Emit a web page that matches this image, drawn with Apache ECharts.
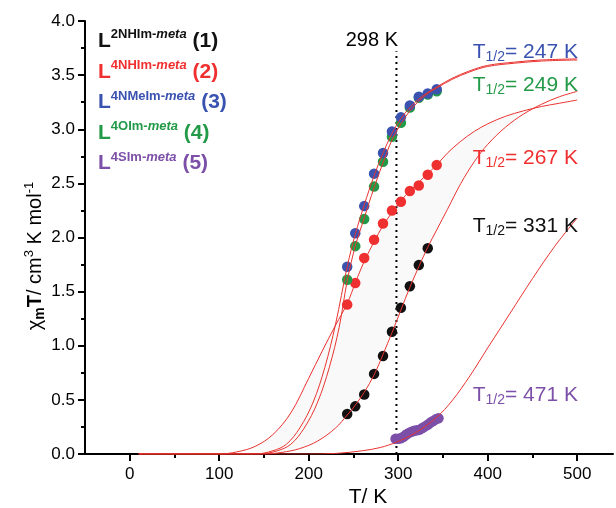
<!DOCTYPE html>
<html><head><meta charset="utf-8">
<script src="https://cdn.jsdelivr.net/npm/echarts@6/dist/echarts.min.js"></script>
<style>html,body{margin:0;padding:0;background:#fff}#c{width:616px;height:508px}</style>
</head><body><div id="c"></div>
<script>
// ---- tick labels ----
const xMajorTicks = [0, 100, 200, 300, 400, 500];
const xMinorTicks = [50, 150, 250, 350, 450];

// ---- measured points (T / K, chiM*T) ----
const tempsA = [243, 252, 262, 273, 283, 293, 303, 313, 323, 333, 343];
const chiT1 = [0.37, 0.44, 0.55, 0.74, 0.905, 1.13, 1.35, 1.55, 1.745, 1.90];          // black (1)
const chiT2 = [1.38, 1.58, 1.81, 1.98, 2.13, 2.25, 2.33, 2.43, 2.48, 2.58, 2.67];     // red (2)
const chiT3 = [1.73, 2.04, 2.29, 2.59, 2.78, 2.98, 3.11, 3.22, 3.30, 3.33, 3.37];     // blue (3)
const chiT4 = [1.61, 1.92, 2.17, 2.47, 2.70, 2.93, 3.06, 3.20, 3.29, 3.32, 3.35];     // green (4)
const temps5 = [297, 300, 303, 306, 309, 312, 315, 318, 321, 324, 327, 330, 333, 336, 339, 342, 345];
const chiT5 = [0.14, 0.14, 0.145, 0.16, 0.18, 0.195, 0.205, 0.215, 0.22, 0.225, 0.24, 0.255, 0.27, 0.29, 0.305, 0.32, 0.33]; // purple (5)

// ---- fitted curves ----
const fit1T = [10, 100, 150, 170, 190, 210, 230, 243, 252, 262, 273, 283, 293, 303, 313, 323, 333, 343, 355, 370, 385, 400, 420, 440, 460, 480, 500];
const fit1Y = [0, 0, 0, 0.015, 0.05, 0.12, 0.24, 0.36, 0.45, 0.57, 0.73, 0.92, 1.12, 1.33, 1.54, 1.73, 1.91, 2.07, 2.26, 2.50, 2.70, 2.86, 3.02, 3.14, 3.23, 3.30, 3.35];
const fit2T = [10, 60, 100, 120, 140, 160, 180, 200, 215, 230, 243, 252, 262, 273, 283, 293, 303, 313, 323, 333, 343, 355, 370, 385, 400, 420, 440, 460, 480, 500];
const fit2Y = [0, 0, 0, 0.02, 0.07, 0.18, 0.38, 0.70, 0.95, 1.19, 1.39, 1.58, 1.78, 1.96, 2.11, 2.23, 2.34, 2.43, 2.51, 2.59, 2.67, 2.78, 2.89, 2.98, 3.05, 3.12, 3.17, 3.21, 3.24, 3.27];
const fit3T = [10, 100, 140, 160, 175, 190, 205, 218, 230, 243, 252, 262, 273, 283, 293, 303, 313, 323, 333, 343, 360, 380, 400, 430, 460, 500];
const fit3Y = [0, 0, 0, 0.03, 0.09, 0.24, 0.48, 0.80, 1.20, 1.73, 2.03, 2.30, 2.57, 2.78, 2.96, 3.10, 3.20, 3.28, 3.34, 3.39, 3.47, 3.54, 3.59, 3.62, 3.64, 3.65];
const fit4T = [10, 100, 145, 165, 180, 195, 210, 223, 234, 243, 252, 262, 273, 283, 293, 303, 313, 323, 333, 343, 360, 380, 400, 430, 460, 500];
const fit4Y = [0, 0, 0, 0.03, 0.09, 0.24, 0.48, 0.80, 1.17, 1.60, 1.92, 2.18, 2.46, 2.69, 2.90, 3.05, 3.17, 3.26, 3.33, 3.38, 3.46, 3.53, 3.58, 3.61, 3.63, 3.64];
const fit5T = [10, 100, 200, 230, 260, 280, 298, 320, 343, 360, 380, 400, 425, 450, 475, 500];
const fit5Y = [0, 0, 0, 0.005, 0.03, 0.06, 0.11, 0.20, 0.34, 0.49, 0.72, 0.98, 1.30, 1.62, 1.92, 2.18];

const roomT = 298;
const roomLineTop = 3.72;

const zip = (a, b) => b.map((v, i) => [a[i], v]);
const FONT = 'Liberation Sans, Arial, sans-serif';
const colBlack = '#111111', colRed = '#f03030', colBlue = '#3a52b0', colGreen = '#229a48', colPurple = '#7c4fa8';
const fitColor = '#e8332f';

const chart = echarts.init(document.getElementById('c'), null, {renderer: 'canvas'});

function fitSeries(T, Y) {
  return {type: 'line', data: zip(T, Y), showSymbol: false, symbol: 'none', smooth: 0.35,
    lineStyle: {color: fitColor, width: 1}, z: 4, silent: true};
}
function dotSeries(T, Y, c) {
  return {type: 'scatter', data: zip(T, Y), symbol: 'circle', symbolSize: 10.5, itemStyle: {color: c, opacity: 1}, z: 3, silent: true};
}

const legendRich = (c) => ({
  L: {fontSize: 21, fontWeight: 'bold', fill: c, lineHeight: 26, fontFamily: FONT},
  s: {fontSize: 13, fontWeight: 'bold', fill: c, lineHeight: 14, verticalAlign: 'top', fontFamily: FONT},
  si: {fontSize: 13, fontWeight: 'bold', fontStyle: 'italic', fill: c, lineHeight: 14, verticalAlign: 'top', fontFamily: FONT},
  n: {fontSize: 21, fontWeight: 'bold', fill: c, lineHeight: 26, fontFamily: FONT}
});
const legendItem = (y, sup, num, c) => ({
  type: 'text', x: 98, y: y, z: 10,
  style: {text: '{L|L}{s|' + sup + '}{si|meta}{n| (' + num + ')}', rich: legendRich(c), align: 'left', verticalAlign: 'middle'}
});
const halfRich = (c) => ({
  t: {fontSize: 21, fill: c, lineHeight: 24, fontFamily: FONT},
  sub: {fontSize: 14, fill: c, lineHeight: 14, verticalAlign: 'bottom', fontFamily: FONT}
});
const halfItem = (y, val, c) => ({
  type: 'text', x: 578, y: y, z: 10,
  style: {text: '{t|T}{sub|1/2}{t|= ' + val + ' K}', rich: halfRich(c), align: 'right', verticalAlign: 'middle'}
});

chart.setOption({
  animation: false,
  textStyle: {fontFamily: FONT},
  grid: {left: 85, right: 3, top: 21, bottom: 54, containLabel: false},
  xAxis: [{
    type: 'value', min: -50, max: 540, position: 'bottom',
    axisLine: {onZero: false, lineStyle: {color: '#000', width: 2}},
    axisTick: {customValues: xMajorTicks, length: 7, lineStyle: {color: '#000', width: 2}},
    axisLabel: {customValues: xMajorTicks, fontSize: 17, color: '#000', margin: 12},
    splitLine: {show: false}
  }, {
    type: 'value', min: -50, max: 540, position: 'bottom', offset: 0,
    axisLine: {show: false},
    axisTick: {customValues: xMinorTicks, length: 4, lineStyle: {color: '#000', width: 2}},
    axisLabel: {show: false},
    splitLine: {show: false}
  }],
  yAxis: {
    type: 'value', min: 0, max: 4, interval: 0.5,
    axisLine: {show: true, onZero: false, lineStyle: {color: '#000', width: 2}},
    axisTick: {show: true, length: 7, lineStyle: {color: '#000', width: 2}},
    minorTick: {show: true, splitNumber: 2, length: 4, lineStyle: {color: '#000', width: 2}},
    axisLabel: {fontSize: 17, color: '#000', margin: 10, formatter: v => v.toFixed(1)},
    splitLine: {show: false}
  },
  graphic: [
    legendItem(41, '2NHIm-', 1, colBlack),
    legendItem(72, '4NHIm-', 2, colRed),
    legendItem(102.5, '4NMeIm-', 3, colBlue),
    legendItem(133, '4OIm-', 4, colGreen),
    legendItem(163.5, '4SIm-', 5, colPurple),
    halfItem(52, '247', colBlue),
    halfItem(85, '249', colGreen),
    halfItem(158, '267', colRed),
    halfItem(226, '331', colBlack),
    halfItem(395, '471', colPurple),
    {type: 'text', x: 398, y: 40, z: 10, style: {text: '298 K', fontSize: 20, fontFamily: FONT, fill: '#000', align: 'right', verticalAlign: 'middle'}},
    {type: 'text', x: 368, y: 497, z: 10, style: {text: 'T/ K', fontSize: 21, fontFamily: FONT, fill: '#000', align: 'center', verticalAlign: 'middle'}},
    {type: 'text', x: 35, y: 256, rotation: Math.PI / 2, z: 10,
      style: {text: '{a|χ}{sb|m}{b|T}{a|/ cm}{sp|3}{a| K mol}{sp|-1}', align: 'center', verticalAlign: 'middle',
        rich: {
          a: {fontSize: 20, fill: '#000', lineHeight: 24, fontFamily: FONT},
          b: {fontSize: 20, fontWeight: 'bold', fill: '#000', lineHeight: 24, fontFamily: FONT},
          sb: {fontSize: 14, fontWeight: 'bold', fill: '#000', lineHeight: 14, verticalAlign: 'bottom', fontFamily: FONT},
          sp: {fontSize: 13, fill: '#000', lineHeight: 13, verticalAlign: 'top', fontFamily: FONT}
        }}}
  ],
  series: [
    {
      type: 'custom', silent: true, z: 1, data: [[0, 0]],
      renderItem: function (params, api) {
        const up = zip(fit2T, fit2Y).filter(p => p[0] >= 140 && p[0] <= 460);
        const lo = zip(fit1T, fit1Y).filter(p => p[0] >= 140 && p[0] <= 460).reverse();
        const pts = up.concat(lo).map(p => api.coord(p));
        return {type: 'polygon', shape: {points: pts, smooth: 0}, style: {fill: 'rgba(0,0,0,0.025)'}};
      }
    },
    {type: 'line', data: [[roomT, 0], [roomT, roomLineTop]], showSymbol: false, symbol: 'none',
      lineStyle: {color: '#000', width: 2, type: [2, 4]}, z: 2, silent: true},
    dotSeries(tempsA, chiT1, colBlack),
    dotSeries(tempsA, chiT2, colRed),
    dotSeries(tempsA, chiT4, colGreen),
    dotSeries(tempsA, chiT3, colBlue),
    dotSeries(temps5, chiT5, colPurple),
    fitSeries(fit1T, fit1Y),
    fitSeries(fit2T, fit2Y),
    fitSeries(fit3T, fit3Y),
    fitSeries(fit4T, fit4Y),
    fitSeries(fit5T, fit5Y)
  ]
});
</script></body></html>
